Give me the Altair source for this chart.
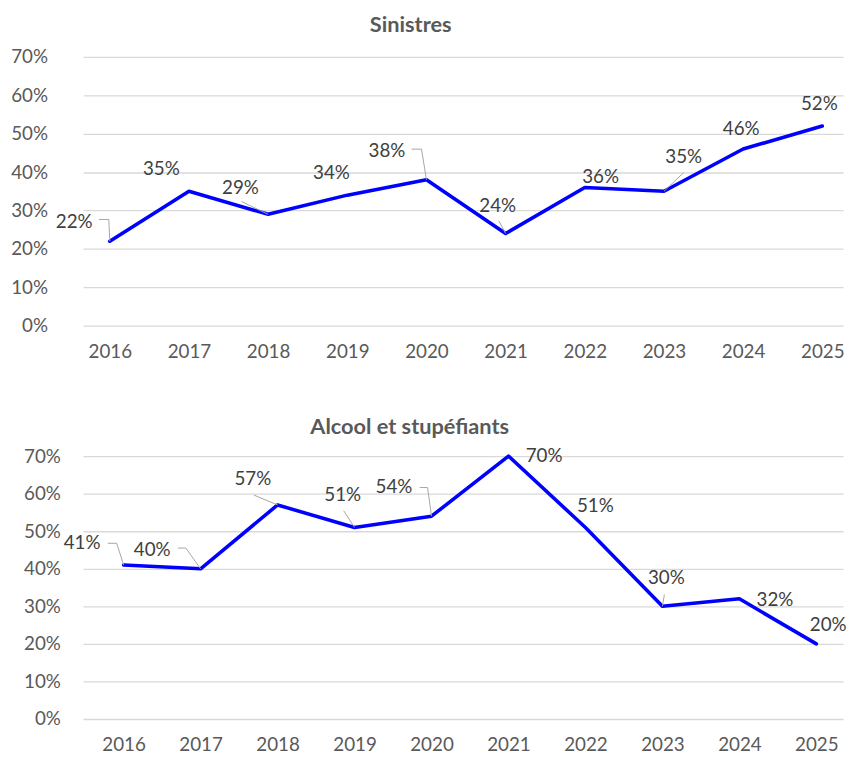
import altair as alt
import pandas as pd

years = [2016, 2017, 2018, 2019, 2020, 2021, 2022, 2023, 2024, 2025]
sinistres = [0.22, 0.35, 0.29, 0.34, 0.38, 0.24, 0.36, 0.35, 0.46, 0.52]
alcool = [0.41, 0.40, 0.57, 0.51, 0.54, 0.70, 0.51, 0.30, 0.32, 0.20]
y_ticks = [0, 0.1, 0.2, 0.3, 0.4, 0.5, 0.6, 0.7]

# label placement (pixel offsets from the point) -- styling only
top_label_off = [(-36, -19), (-28, -22), (-28, -27), (-16, -22), (-40, -29),
                 (-8, -28), (16, -10), (20, -35), (-2, -20), (-3, -22)]
bot_label_off = [(-42, -22), (-49, -19), (-25, -26), (-12, -33), (-38, -29),
                 (36, 0), (10, -22), (4, -29), (36, 1), (12, -19)]
# leader line polylines (pixel offsets from the point)
top_leaders = {2016: [(0, 0), (-1, -22), (-11, -22)], 2018: [(0, 0), (-27, -13)],
               2020: [(0, 0), (-5, -31), (-15, -31)], 2021: [(0, 0), (-7, -13)],
               2023: [(0, 0), (20, -19)]}
bot_leaders = {2016: [(0, 0), (-7, -22), (-16, -22)], 2017: [(0, 0), (-15, -21), (-23, -21)],
               2018: [(0, 0), (-24, -10)], 2019: [(0, 0), (-11, -17)],
               2020: [(0, 0), (-4, -29), (-12, -29)], 2023: [(0, 0), (2, -12)]}

FONT = "Lato"
YMAX = 0.7
EXTENT = 76
WIDTH = 769


def panel(title, values, label_off, leaders, height, pad, align, lab_pad,
          title_dx, title_off):
    df = pd.DataFrame({"year": [str(y) for y in years], "v": values,
                       "ox": [o[0] for o in label_off], "oy": [o[1] for o in label_off]})
    rows = []
    vmap = dict(zip(years, values))
    for yr, pts in leaders.items():
        for k, (dx, dy) in enumerate(pts):
            rows.append({"year": str(yr), "v": vmap[yr], "k": k, "dx": dx, "dy": dy})
    ld = pd.DataFrame(rows)
    per_px = YMAX / height

    x = alt.X("year:O", title=None, sort=[str(y) for y in years],
              scale=alt.Scale(type="point", padding=pad, align=align),
              axis=alt.Axis(labelAngle=0, ticks=False, domain=False, grid=False,
                            labelPadding=17, labelFont=FONT, labelFontSize=19,
                            labelColor="#595959"))
    yscale = alt.Scale(domain=[0, YMAX], nice=False)
    yaxis = alt.Axis(values=y_ticks, format=".0%", ticks=False, domain=False,
                     grid=True, gridColor="#d9d9d9", gridWidth=1.3,
                     labelPadding=lab_pad, labelFont=FONT, labelFontSize=19,
                     labelColor="#595959", minExtent=EXTENT, maxExtent=EXTENT)
    y = alt.Y("v:Q", title=None, scale=yscale, axis=yaxis)
    y2 = alt.Y("vy:Q", title=None, scale=yscale, axis=yaxis)

    lead = alt.Chart(ld).transform_calculate(
        vy=f"datum.v - datum.dy * {per_px}"
    ).mark_line(color="#a6a6a6", strokeWidth=1, clip=False).encode(
        x=x, y=y2, detail="year:N", order="k:Q",
        xOffset=alt.XOffset("dx:Q", scale=None))
    line = alt.Chart(df).mark_line(color="#0000ff", strokeWidth=3.6,
                                   strokeCap="round", strokeJoin="round").encode(x=x, y=y)
    text = alt.Chart(df).transform_calculate(
        vy=f"datum.v - datum.oy * {per_px}",
        lab="format(datum.v, '.0%')"
    ).mark_text(font=FONT, fontSize=19, color="#404040",
                baseline="middle", align="center").encode(
        x=x, y=y2, text="lab:N",
        xOffset=alt.XOffset("ox:Q", scale=None))
    return alt.layer(line, lead, text).properties(
        width=WIDTH, height=height,
        title=alt.TitleParams(title, font=FONT, fontSize=22, fontWeight="bold",
                              color="#595959", frame="group", anchor="middle",
                              dx=title_dx, offset=title_off))


top = panel("Sinistres", sinistres, top_label_off, top_leaders,
            272, 0.2996, 0.5625, 36, -53, 11)
bot = panel("Alcool et stupéfiants", alcool, bot_label_off, bot_leaders,
            266, 0.4365, 0.603, 23, -54, 8)

chart = alt.vconcat(top, bot, spacing=56).properties(
    padding={"top": 2, "left": 0, "right": 0, "bottom": 0}, background="white"
).configure_view(stroke=None)

chart.save("out.html", embed_options={"renderer": "svg", "actions": False})
